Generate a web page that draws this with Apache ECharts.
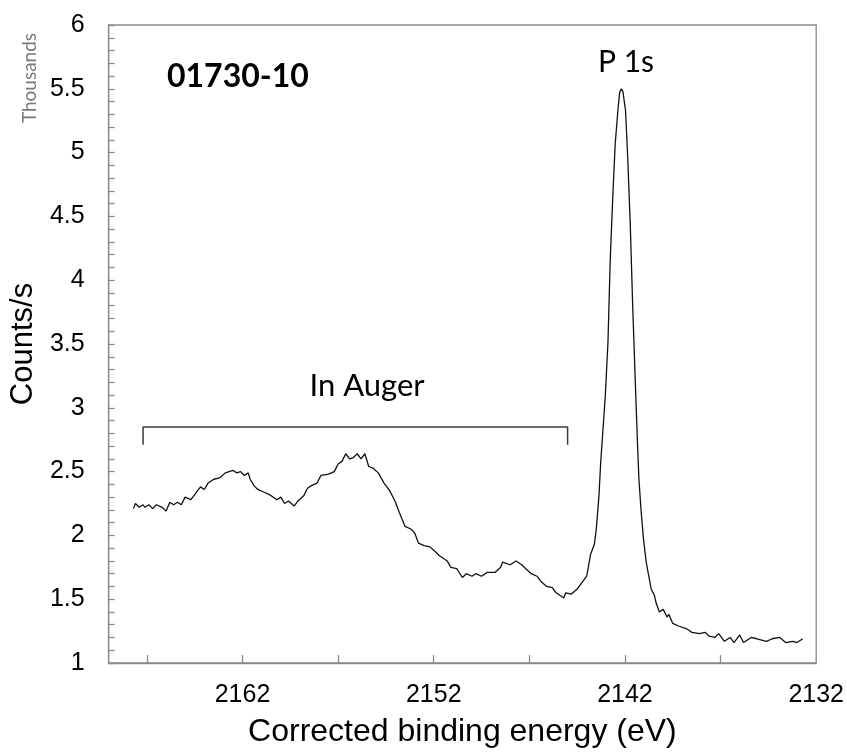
<!DOCTYPE html>
<html>
<head>
<meta charset="utf-8">
<script src="https://cdn.jsdelivr.net/npm/echarts@6/dist/echarts.min.js"></script>
<style>
html,body{margin:0;padding:0;background:#fff;}
#chart{width:847px;height:753px;}
</style>
</head>
<body>
<div id="chart"></div>
<script>
// Binding energy (eV) and intensity (thousands of counts/s)
const energy = [
2167.7,2167.6,2167.4,2167.2,2167.1,2166.9,2166.7,2166.5,2166.4,2166.2,2166.0,
2165.8,2165.6,2165.4,2165.2,2165.0,2164.7,2164.5,2164.2,2164.0,2163.8,2163.5,
2163.2,2162.9,2162.5,2162.3,2162.1,2161.9,2161.7,2161.6,2161.4,2161.2,2160.9,
2160.6,2160.4,2160.2,2160.0,2159.8,2159.6,2159.3,2159.1,2158.8,2158.6,2158.4,
2158.1,2157.9,2157.5,2157.2,2157.0,2156.8,2156.6,2156.4,2156.2,2156.0,2155.8,
2155.6,2155.4,2155.2,2154.9,2154.6,2154.5,2154.3,2154.0,2153.8,2153.5,2153.2,
2153.0,2152.8,2152.5,2152.2,2151.9,2151.7,2151.3,2151.1,2150.8,2150.5,2150.3,
2150.0,2149.8,2149.5,2149.2,2148.8,2148.5,2148.4,2148.0,2147.7,2147.4,2147.2,
2146.9,2146.6,2146.4,2146.1,2145.8,2145.6,2145.2,2145.1,2144.8,2144.5,2144.3,
2144.0,2143.8,2143.6,2143.5,2143.36,2143.27,2143.15,2143.03,2142.89,2142.77,
2142.63,2142.51,2142.37,2142.28,2142.19,2142.11,2141.97,2141.85,2141.72,2141.59,
2141.41,2141.34,2141.27,2141.15,2141.03,2140.89,2140.63,2140.46,2140.37,2140.2,
2140.0,2139.8,2139.7,2139.5,2139.2,2138.8,2138.5,2138.1,2137.8,2137.6,2137.3,
2137.1,2136.8,2136.5,2136.3,2136.0,2135.8,2135.4,2135.1,2134.6,2134.3,2133.9,
2133.6,2133.2,2133.0,2132.7
];
const counts = [
2.21,2.25,2.22,2.24,2.22,2.24,2.21,2.24,2.23,2.22,2.19,
2.26,2.24,2.26,2.24,2.30,2.28,2.32,2.38,2.36,2.41,2.44,
2.45,2.49,2.51,2.49,2.50,2.47,2.49,2.44,2.39,2.36,2.34,
2.32,2.30,2.28,2.30,2.25,2.27,2.23,2.27,2.31,2.37,2.39,
2.41,2.47,2.48,2.50,2.56,2.58,2.64,2.60,2.61,2.64,2.60,
2.64,2.54,2.53,2.49,2.41,2.39,2.35,2.26,2.18,2.07,2.05,
2.02,1.94,1.92,1.91,1.87,1.84,1.80,1.75,1.74,1.67,1.70,
1.68,1.70,1.68,1.71,1.71,1.75,1.79,1.77,1.80,1.77,1.74,
1.70,1.68,1.64,1.60,1.59,1.55,1.51,1.55,1.54,1.58,1.62,
1.68,1.85,1.93,2.05,2.31,2.57,2.83,3.09,3.51,4.16,
4.68,5.07,5.33,5.47,5.50,5.48,5.33,4.94,4.42,3.77,
2.99,2.70,2.44,2.18,1.97,1.79,1.58,1.53,1.47,1.40,
1.42,1.36,1.38,1.31,1.29,1.27,1.24,1.23,1.24,1.21,1.20,
1.23,1.17,1.20,1.16,1.22,1.16,1.20,1.19,1.17,1.19,1.20,
1.16,1.17,1.16,1.19
];
// "In Auger" bracket (eV, thousands)
const bracketEnergy = [2167.2, 2167.2, 2145.0, 2145.0];
const bracketCounts = [2.71, 2.85, 2.85, 2.71];
// Axis ticks and labels
const xTickValues = [2167, 2162, 2157, 2152, 2147, 2142, 2137];
const xLabelValues = [2162, 2152, 2142, 2132];
const xLabelTexts = ['2162', '2152', '2142', '2132'];
const yTicks = [1, 1.5, 2, 2.5, 3, 3.5, 4, 4.5, 5, 5.5, 6];

const chart = echarts.init(document.getElementById('chart'), null, {renderer: 'canvas'});
const axisColor = '#8a8a8a';
const arial = '"Liberation Sans", Arial, sans-serif';
const calibri = 'Lato, "Open Sans", sans-serif';

const option = {
  animation: false,
  backgroundColor: '#ffffff',
  grid: {left: 108, right: 30, top: 25, bottom: 89, show: true, borderColor: axisColor, borderWidth: 1.3},
  xAxis: {
    type: 'value',
    inverse: true,
    min: 2132,
    max: 2169,
    name: 'Corrected binding energy (eV)',
    nameLocation: 'middle',
    nameGap: 53,
    nameTextStyle: {fontFamily: arial, fontSize: 32, color: '#000'},
    axisLine: {show: true, lineStyle: {color: axisColor, width: 1.3}},
    axisTick: {show: true, inside: true, length: 8, customValues: xTickValues, lineStyle: {color: axisColor, width: 1.3}},
    axisLabel: {
      show: true, margin: 20, customValues: xLabelValues,
      fontFamily: arial, fontSize: 25, color: '#000',
      formatter: function (v) { const i = xLabelValues.indexOf(v); return i >= 0 ? xLabelTexts[i] : ''; }
    },
    splitLine: {show: false}
  },
  yAxis: {
    type: 'value',
    min: yTicks[0],
    max: yTicks[yTicks.length - 1],
    interval: 0.5,
    name: 'Counts/s',
    nameLocation: 'middle',
    nameGap: 66,
    nameRotate: 90,
    nameTextStyle: {fontFamily: arial, fontSize: 31, color: '#000'},
    axisLine: {show: true, lineStyle: {color: axisColor, width: 1.3}},
    axisTick: {show: true, inside: true, length: 6, lineStyle: {color: axisColor, width: 1.3}},
    minorTick: {show: true, splitNumber: 5, length: 6, lineStyle: {color: axisColor, width: 1.3}},
    axisLabel: {margin: 24, fontFamily: arial, fontSize: 25, color: '#000'},
    splitLine: {show: false},
    minorSplitLine: {show: false}
  },
  series: [
    {
      type: 'line',
      data: energy.map((e, i) => [e, counts[i]]),
      showSymbol: false,
      symbol: 'none',
      lineStyle: {color: '#111', width: 1.3},
      z: 3
    },
    {
      type: 'line',
      data: bracketEnergy.map((e, i) => [e, bracketCounts[i]]),
      showSymbol: false,
      symbol: 'none',
      lineStyle: {color: '#3a3a3a', width: 1.5},
      z: 2
    }
  ],
  graphic: [
    {type: 'text', x: 30, y: 78, rotation: Math.PI / 2,
     style: {text: 'Thousands', fontFamily: calibri, fontSize: 19, fill: '#7a7a7a', align: 'center', verticalAlign: 'middle'}},
    {type: 'text', x: 167, y: 77,
     style: {text: '01730-10', fontFamily: calibri, fontWeight: 'bold', fontSize: 32, fill: '#000', align: 'left', verticalAlign: 'middle'}},
    {type: 'text', x: 626, y: 62,
     style: {text: 'P 1s', fontFamily: calibri, fontSize: 30, fill: '#000', align: 'center', verticalAlign: 'middle'}},
    {type: 'text', x: 367, y: 386,
     style: {text: 'In Auger', fontFamily: calibri, fontSize: 31, fill: '#000', align: 'center', verticalAlign: 'middle'}}
  ]
};
chart.setOption(option);
</script>
</body>
</html>
